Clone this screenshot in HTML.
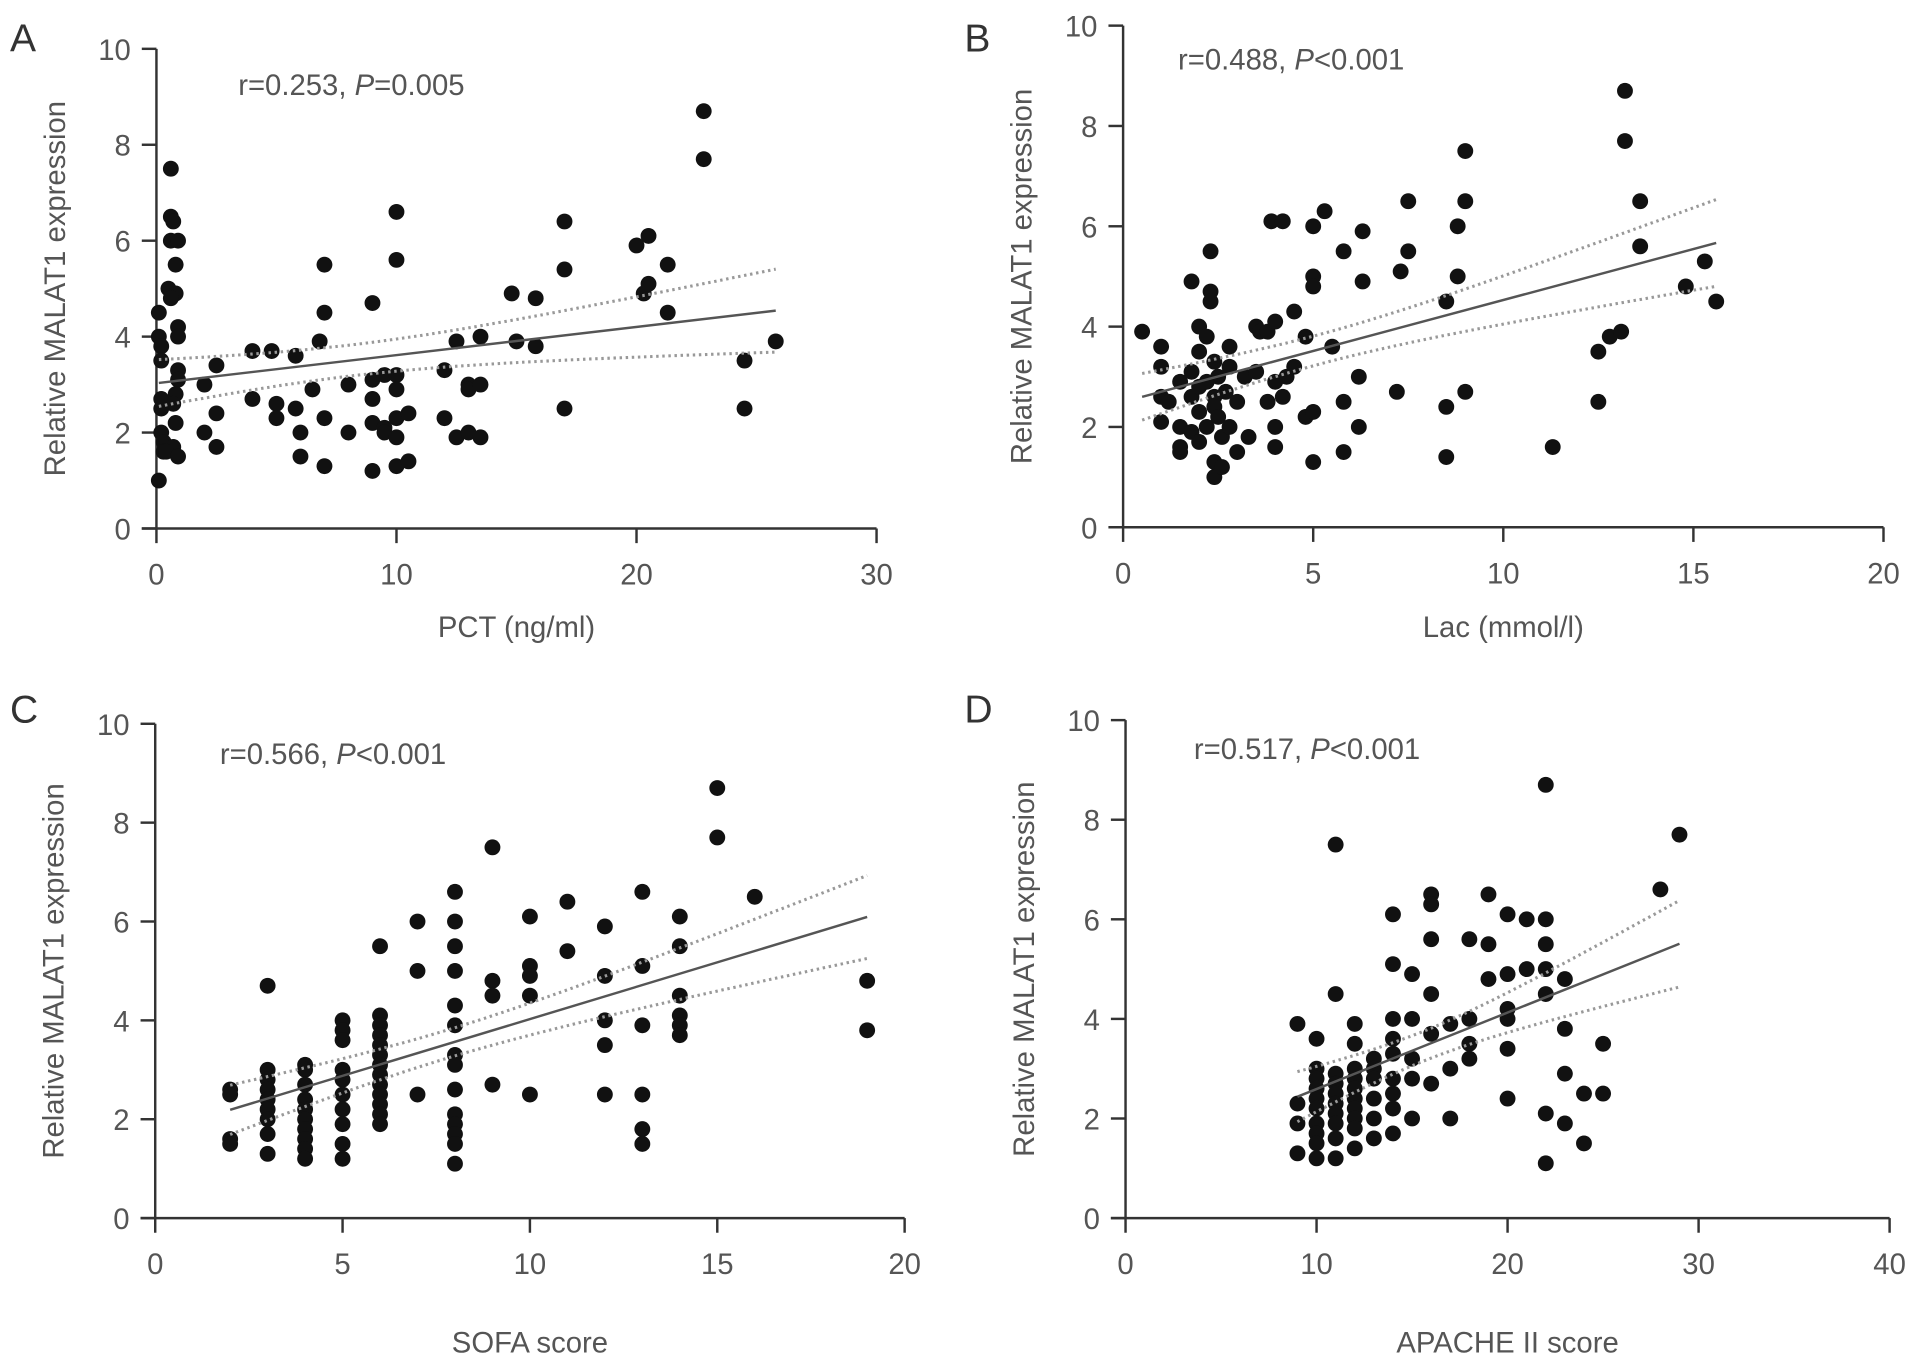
<!DOCTYPE html>
<html><head><meta charset="utf-8"><style>
html,body{margin:0;padding:0;background:#fff;}
svg{display:block;font-family:"Liberation Sans",sans-serif;}
</style></head><body>
<svg id="fig" width="1913" height="1367" viewBox="0 0 1567 1120" xmlns="http://www.w3.org/2000/svg"></svg>
<script>
const pctX=[0.1,0.1,0.2,0.2,0.2,0.2,0.2,0.3,0.3,0.1,0.6,0.6,0.7,0.6,0.9,0.8,0.5,0.8,0.6,0.9,0.9,0.9,0.9,0.8,0.7,0.8,0.7,0.4,0.9,
2,2,2.5,2.5,2.5,4,4,4.8,5,5,5.8,5.8,6,6,6.5,6.8,7,7,7,7,8,8,9,9,9,9,9,9.5,9.5,9.5,10,10,10,10,10,10,10,10.5,10.5,12,12,12.5,12.5,13,13,13,13.5,13.5,13.5,14.8,15,15.8,15.8,17,17,17,20,20.5,20.3,20.5,21.3,21.3,22.8,22.8,24.5,24.5,25.8];
const pctY=[4.5,4.0,3.8,3.5,2.5,2.7,2.0,1.8,1.6,1.0,7.5,6.5,6.4,6.0,6.0,5.5,5.0,4.9,4.8,4.2,4.0,3.3,3.1,2.8,2.6,2.2,1.7,1.6,1.5,
3.0,2.0,3.4,2.4,1.7,3.7,2.7,3.7,2.6,2.3,3.6,2.5,1.5,2.0,2.9,3.9,5.5,4.5,2.3,1.3,3.0,2.0,4.7,3.1,2.7,2.2,1.2,3.2,2.1,2.0,6.6,5.6,3.2,2.9,2.3,1.9,1.3,2.4,1.4,3.3,2.3,3.9,1.9,3.0,2.9,2.0,4.0,3.0,1.9,4.9,3.9,4.8,3.8,6.4,5.4,2.5,5.9,6.1,4.9,5.1,5.5,4.5,8.7,7.7,3.5,2.5,3.9];
const lacX=[0.5,1,1,1,1,1.2,1.5,1.5,1.5,1.5,1.8,1.8,1.8,1.8,2,2,2,2,2,2.2,2.2,2.2,2.3,2.3,2.3,2.4,2.4,2.4,2.4,2.4,2.5,2.5,2.6,2.6,2.7,2.8,2.8,2.8,3,3,3.2,3.3,3.5,3.5,3.6,3.8,3.8,3.9,4,4,4,4,4.2,4.2,4.3,4.5,4.5,4.8,4.8,5,5,5,5,5,5.3,5.5,5.8,5.8,5.8,6.2,6.2,6.3,6.3,7.2,7.3,7.5,7.5,8.5,8.5,8.5,8.8,8.8,9,9,9,11.3,12.5,12.5,12.8,13.1,13.2,13.2,13.6,13.6,14.8,15.3,15.6];
const lacY=[3.9,3.6,3.2,2.6,2.1,2.5,1.5,1.6,2.9,2.0,4.9,3.1,2.6,1.9,4.0,3.5,2.8,2.3,1.7,3.8,2.9,2.0,5.5,4.7,4.5,3.3,2.6,2.4,1.3,1.0,2.2,3.0,1.8,1.2,2.7,3.6,3.2,2.0,1.5,2.5,3.0,1.8,4.0,3.1,3.9,2.5,3.9,6.1,4.1,2.9,1.6,2.0,6.1,2.6,3.0,4.3,3.2,3.8,2.2,6.0,5.0,4.8,2.3,1.3,6.3,3.6,5.5,1.5,2.5,3.0,2.0,5.9,4.9,2.7,5.1,6.5,5.5,4.5,2.4,1.4,6.0,5.0,7.5,6.5,2.7,1.6,3.5,2.5,3.8,3.9,8.7,7.7,6.5,5.6,4.8,5.3,4.5];
const sofaX=[2,2,2,2,3,3,3,3,3,3,3,3,3,4,4,4,4,4,4,4,4,4,4,5,5,5,5,5,5,5,5,5,5,6,6,6,6,6,6,6,6,6,6,6,6,6,7,7,7,8,8,8,8,8,8,8,8,8,8,8,8,8,8,9,9,9,9,10,10,10,10,10,11,11,12,12,12,12,12,13,13,13,13,13,13,14,14,14,14,14,14,15,15,16,19,19];
const sofaY=[2.6,2.5,1.6,1.5,4.7,3.0,2.8,2.6,2.4,2.2,2.0,1.7,1.3,3.1,3.0,2.7,2.4,2.2,2.0,1.8,1.6,1.4,1.2,4.0,3.8,3.6,3.0,2.8,2.5,2.2,1.9,1.5,1.2,5.5,4.1,3.9,3.7,3.5,3.3,3.1,2.9,2.7,2.5,2.3,2.1,1.9,6.0,5.0,2.5,6.6,6.0,5.5,5.0,4.3,3.9,3.3,3.1,2.6,2.1,1.9,1.7,1.5,1.1,7.5,4.8,4.5,2.7,6.1,5.1,4.9,4.5,2.5,6.4,5.4,5.9,4.9,4.0,3.5,2.5,6.6,5.1,3.9,2.5,1.8,1.5,6.1,5.5,4.5,4.1,3.9,3.7,8.7,7.7,6.5,4.8,3.8];
const apX=[9,9,9,9,10,10,10,10,10,10,10,10,10,10,11,11,11,11,11,11,11,11,11,11,12,12,12,12,12,12,12,12,12,12,13,13,13,13,13,13,14,14,14,14,14,14,14,14,14,15,15,15,15,15,16,16,16,16,16,16,17,17,17,18,18,18,18,19,19,19,20,20,20,20,20,20,21,21,22,22,22,22,22,22,22,23,23,23,23,24,24,25,25,28,29];
const apY=[3.9,2.3,1.9,1.3,3.6,3.0,2.8,2.6,2.4,2.2,1.9,1.7,1.5,1.2,7.5,4.5,2.9,2.7,2.5,2.3,2.1,1.9,1.6,1.2,3.9,3.5,3.0,2.8,2.6,2.4,2.2,2.0,1.8,1.4,3.2,3.0,2.8,2.4,2.0,1.6,6.1,5.1,4.0,3.6,3.3,2.8,2.5,2.2,1.7,4.9,4.0,3.2,2.8,2.0,6.5,6.3,5.6,4.5,3.7,2.7,3.9,3.0,2.0,5.6,4.0,3.5,3.2,6.5,5.5,4.8,6.1,4.9,4.2,4.0,3.4,2.4,6.0,5.0,8.7,6.0,5.5,5.0,4.5,2.1,1.1,4.8,3.8,2.9,1.9,2.5,1.5,3.5,2.5,6.6,7.7];
const yTicks=[0,2,4,6,8,10];
const xTicksA=[0,10,20,30], xTicksB=[0,5,10,15,20], xTicksC=[0,5,10,15,20], xTicksD=[0,10,20,30,40];

const NS="http://www.w3.org/2000/svg";
const svg=document.getElementById('fig');
function mk(tag,attrs,parent){const e=document.createElementNS(NS,tag);for(const k in attrs)e.setAttribute(k,attrs[k]);(parent||svg).appendChild(e);return e;}

function panel(o){
  const g=mk('g',{});
  
  
  const sx=v=>o.x0+(v-o.xmin)/(o.xmax-o.xmin)*(o.x1-o.x0);
  const sy=v=>o.y0-(v/10)*(o.y0-o.y1);
  const ax='#333', tc='#555';
  let e=mk('line',{x1:o.x0,y1:o.y0,x2:o.x0,y2:o.y1,stroke:ax,'stroke-width':2},g);
  
  e=mk('line',{x1:o.x0-12,y1:o.y0,x2:o.x1,y2:o.y0,stroke:ax,'stroke-width':2},g);
  
  yTicks.forEach(t=>{
    mk('line',{x1:o.x0-12,x2:o.x0,y1:sy(t),y2:sy(t),stroke:ax,'stroke-width':2},g);
    const tx=mk('text',{x:o.x0-21,y:sy(t)+9,'text-anchor':'end','font-size':24,fill:tc},g);
    tx.textContent=t;
    
  });
  o.xt.forEach(t=>{
    mk('line',{x1:sx(t),x2:sx(t),y1:o.y0,y2:o.y0+12,stroke:ax,'stroke-width':2},g);
    const tx=mk('text',{x:sx(t),y:o.y0+46,'text-anchor':'middle','font-size':24,fill:tc},g);
    tx.textContent=t;
    
  });
  e=mk('text',{x:(o.x0+o.x1)/2,y:o.xtY,'text-anchor':'middle','font-size':24,fill:tc},g);
  e.textContent=o.xlabel;
  const cy=(o.y0+o.y1)/2;
  e=mk('text',{x:o.x0-75,y:cy,'text-anchor':'middle','font-size':24,fill:tc,transform:`rotate(-90 ${o.x0-75} ${cy})`},g);
  e.textContent='Relative MALAT1 expression';
  e=mk('text',{x:o.lx,y:o.ly,'font-size':32,fill:'#333'},g);
  e.textContent=o.letter;
  e=mk('text',{x:o.ax,y:o.ay,'font-size':24,fill:tc},g);
  
  e.innerHTML=o.stat[0]+'<tspan font-style="italic">P</tspan>'+o.stat[1];
  const X=o.X,Y=o.Y,n=X.length;
  const mx=X.reduce((a,b)=>a+b)/n,my=Y.reduce((a,b)=>a+b)/n;
  let sxx=0,sxy=0;for(let i=0;i<n;i++){sxx+=(X[i]-mx)**2;sxy+=(X[i]-mx)*(Y[i]-my);}
  const b=sxy/sxx,a=my-b*mx;
  let sse=0;for(let i=0;i<n;i++)sse+=(Y[i]-a-b*X[i])**2;
  const s=Math.sqrt(sse/(n-2));
  const xa=Math.min(...X),xb=Math.max(...X);
  for(let i=0;i<n;i++){
    const c=mk('circle',{cx:sx(X[i]),cy:sy(Y[i]),r:6.5,fill:'#111'},g);
    
    
  }
  for(const sg of [1,-1]){
    let d='';
    for(let k=0;k<=40;k++){const x=xa+(xb-xa)*k/40;const y=a+b*x+sg*1.98*s*Math.sqrt(1/n+(x-mx)**2/sxx);d+=(k?'L':'M')+sx(x).toFixed(1)+' '+sy(y).toFixed(1);}
    const p=mk('path',{d:d,fill:'none',stroke:'#999','stroke-width':2.5,'stroke-dasharray':'2 3'},g);
    
  }
  const l=mk('line',{x1:sx(xa),y1:sy(a+b*xa),x2:sx(xb),y2:sy(a+b*xb),stroke:'#555','stroke-width':2},g);
  
}
panel({letter:'A',X:pctX,Y:pctY,xmin:0,xmax:30,x0:128,x1:718,y0:433,y1:40,xt:xTicksA,xlabel:'PCT (ng/ml)',xtY:522,lx:8,ly:42,ax:195,ay:78,stat:['r=0.253, ','=0.005']});
panel({letter:'B',X:lacX,Y:lacY,xmin:0,xmax:20,x0:920,x1:1543,y0:432,y1:21,xt:xTicksB,xlabel:'Lac (mmol/l)',xtY:522,lx:790,ly:42,ax:965,ay:57,stat:['r=0.488, ','&lt;0.001']});
panel({letter:'C',X:sofaX,Y:sofaY,xmin:0,xmax:20,x0:127,x1:741,y0:998,y1:593,xt:xTicksC,xlabel:'SOFA score',xtY:1108,lx:8,ly:592,ax:180,ay:626,stat:['r=0.566, ','&lt;0.001']});
panel({letter:'D',X:apX,Y:apY,xmin:0,xmax:40,x0:922,x1:1548,y0:998,y1:590,xt:xTicksD,xlabel:'APACHE II score',xtY:1108,lx:790,ly:592,ax:978,ay:622,stat:['r=0.517, ','&lt;0.001']});
</script>
</body></html>
